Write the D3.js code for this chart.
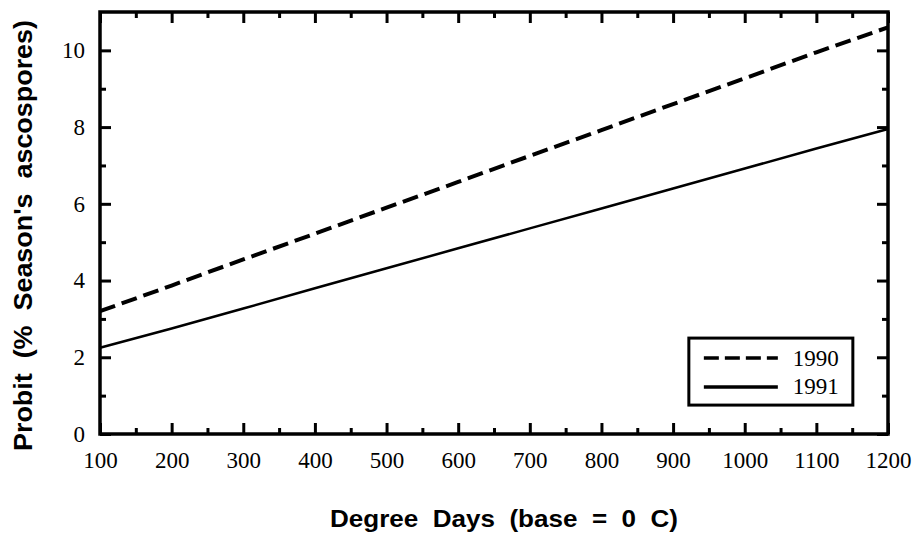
<!DOCTYPE html>
<html>
<head>
<meta charset="utf-8">
<script src="https://cdn.jsdelivr.net/npm/d3@7"></script>
<style>
  body { margin: 0; background: #fff; }
  .tick text { font-family: "Liberation Serif", "Times New Roman", serif; font-size: 23px; }
  .axisTitle { font-family: "Liberation Sans", Arial, sans-serif; font-weight: bold; white-space: pre; }
</style>
</head>
<body>
<div id="chart"></div>
<script>
// data
var degreeDays = [100, 200, 300, 400, 500, 600, 700, 800, 900, 1000, 1100, 1200];
var probit1990 = [3.2, 3.87, 4.55, 5.22, 5.9, 6.57, 7.25, 7.92, 8.6, 9.27, 9.95, 10.6];
var probit1991 = [2.25, 2.75, 3.27, 3.8, 4.32, 4.84, 5.36, 5.88, 6.4, 6.92, 7.44, 7.95];
var years = ["1990", "1991"];

var svgWidth = 914;
var svgHeight = 539;
var margin = { top: 12, right: 26, bottom: 105, left: 100 };
var width = svgWidth - margin.left - margin.right;
var height = svgHeight - margin.top - margin.bottom;

var svg = d3.select("#chart").append("svg")
    .attr("width", svgWidth)
    .attr("height", svgHeight);

var chartGroup = svg.append("g")
    .attr("transform", `translate(${margin.left}, ${margin.top})`);

var x = d3.scaleLinear().domain([100, 1200]).range([0, width]);
var y = d3.scaleLinear().domain([0, 11]).range([height, 0]);

var majorX = d3.range(100, 1201, 100);
var minorX = d3.range(150, 1200, 100);
var majorY = d3.range(0, 11, 2);
var minorY = d3.range(1, 11, 2);

// bottom axis with labels
chartGroup.append("g")
    .attr("transform", `translate(0, ${height})`)
    .call(d3.axisBottom(x).tickValues(majorX).tickSize(-11).tickPadding(18).tickFormat(d3.format("d")));
chartGroup.append("g")
    .attr("transform", `translate(0, ${height})`)
    .call(d3.axisBottom(x).tickValues(minorX).tickSize(-6).tickFormat(""));

// left axis with labels
chartGroup.append("g")
    .call(d3.axisLeft(y).tickValues(majorY).tickSize(-11).tickPadding(15));
chartGroup.append("g")
    .call(d3.axisLeft(y).tickValues(minorY).tickSize(-6).tickFormat(""));

// top and right ticks
chartGroup.append("g")
    .call(d3.axisTop(x).tickValues(majorX).tickSize(-11).tickFormat(""));
chartGroup.append("g")
    .call(d3.axisTop(x).tickValues(minorX).tickSize(-6).tickFormat(""));
chartGroup.append("g")
    .attr("transform", `translate(${width}, 0)`)
    .call(d3.axisRight(y).tickValues(majorY).tickSize(-11).tickFormat(""));
chartGroup.append("g")
    .attr("transform", `translate(${width}, 0)`)
    .call(d3.axisRight(y).tickValues(minorY).tickSize(-6).tickFormat(""));

chartGroup.selectAll(".domain").remove();
chartGroup.selectAll(".tick line").attr("stroke", "#000").attr("stroke-width", 3);
chartGroup.selectAll(".tick text").attr("fill", "#000");

// frame
chartGroup.append("rect")
    .attr("x", 0).attr("y", 0)
    .attr("width", width).attr("height", height)
    .attr("fill", "none")
    .attr("stroke", "#000")
    .attr("stroke-width", 3.5);

var line = d3.line()
    .x((d, i) => x(degreeDays[i]))
    .y(d => y(d));

chartGroup.append("path")
    .datum(probit1990)
    .attr("d", line)
    .attr("fill", "none")
    .attr("stroke", "#000")
    .attr("stroke-width", 4)
    .attr("stroke-dasharray", "16,7");

chartGroup.append("path")
    .datum(probit1991)
    .attr("d", line)
    .attr("fill", "none")
    .attr("stroke", "#000")
    .attr("stroke-width", 2.5);

// legend
var legend = chartGroup.append("g")
    .attr("transform", `translate(${x(922)}, ${y(2.5)})`);
legend.append("rect")
    .attr("width", 164).attr("height", 67)
    .attr("fill", "#fff")
    .attr("stroke", "#000")
    .attr("stroke-width", 3);
years.forEach(function(yr, i) {
    legend.append("line")
        .attr("x1", 15).attr("x2", 89)
        .attr("y1", 20 + i * 29).attr("y2", 20 + i * 29)
        .attr("stroke", "#000")
        .attr("stroke-width", 3.5)
        .attr("stroke-dasharray", i === 0 ? "15,6" : null);
    legend.append("text")
        .attr("x", 104).attr("y", 28 + i * 28)
        .attr("font-family", "Liberation Serif, serif")
        .attr("font-size", "23px")
        .text(yr);
});

// axis titles
svg.append("text")
    .attr("class", "axisTitle")
    .attr("x", 330)
    .attr("y", 527)
    .attr("font-size", "24px")
    .attr("textLength", 348)
    .attr("lengthAdjust", "spacingAndGlyphs")
    .text("Degree  Days  (base  =  0  C)");

svg.append("text")
    .attr("class", "axisTitle")
    .attr("transform", "rotate(-90)")
    .attr("x", -451)
    .attr("y", 32)
    .attr("font-size", "26px")
    .attr("textLength", 431)
    .attr("lengthAdjust", "spacingAndGlyphs")
    .text("Probit  (%  Season's  ascospores)");
</script>
</body>
</html>
